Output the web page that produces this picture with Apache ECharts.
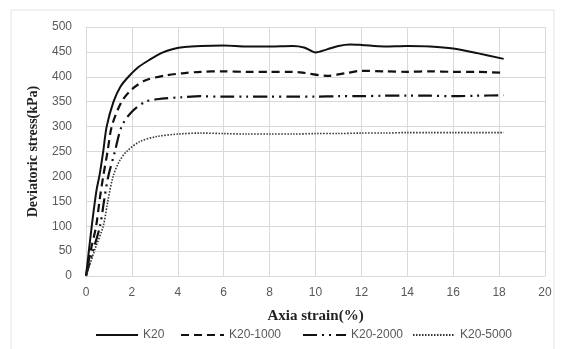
<!DOCTYPE html>
<html>
<head>
<meta charset="utf-8">
<script src="https://cdn.jsdelivr.net/npm/echarts@6/dist/echarts.min.js"></script>
<style>
html, body { margin: 0; padding: 0; background: #fff; }
#chart { width: 566px; height: 349px; }
</style>
</head>
<body>
<div id="chart"></div>
<script>
// 曲线数据 [应变(%), 偏应力(kPa)]
var seriesNames = ['K20', 'K20-1000', 'K20-2000', 'K20-5000'];

var k20 = [[0,0],[0.1,40],[0.25,100],[0.45,170],[0.6,205],[0.75,250],[0.9,300],[1.2,350],[1.5,380],
	[1.85,400],[2.3,420],[2.8,435],[3.3,448],[3.8,456],[4.3,460],[5,462],[6,463],[7,461],[8,461],
	[9,462],[9.5,459],[10,449],[10.5,455],[11,462],[11.5,465],[12,464],[13,461],[14,462],[15,461],
	[16,457],[17,448],[18.2,436]];

var k20_1000 = [[0,0],[0.2,50],[0.44,100],[0.6,155],[0.75,200],[0.94,250],[1.12,300],[1.55,350],
	[2,375],[2.6,393],[3.5,403],[4.2,407],[5,410],[6,411],[7,410],[8,410],[9,410],[9.5,408],
	[10.5,402],[11.3,407],[12,412],[13,411],[14,410],[15,411],[16,410],[17,410],[18.2,408]];

var k20_2000 = [[0,0],[0.3,50],[0.61,100],[0.8,155],[0.97,200],[1.26,250],[1.55,300],[2,330],
	[2.6,350],[3.3,356],[4.2,359],[5,361],[6,360],[7,360],[8,360],[9,360],[10,360],[11,361],
	[12,361],[13,362],[14,362],[15,362],[16,361],[17,362],[18.2,363]];

var k20_5000 = [[0,0],[0.4,55],[0.75,100],[0.95,150],[1.18,200],[1.45,230],[1.77,250],[2.35,270],
	[3.08,280],[4,285],[5,287],[6,286],[7,285],[8,285],[9,285],[10,286],[11,286],[12,287],
	[13,287],[14,288],[15,288],[16,288],[17,288],[18.2,288]];

var xTicks = [0, 20, 2];
var yTicks = [0, 500, 50];

var myChart = echarts.init(document.getElementById('chart'));

var labelColor = '#595959';
var gridColor = '#d9d9d9';

function legendItem(name, left, width) {
	return {
		data: [name],
		left: left,
		top: 329,
		itemWidth: width,
		itemHeight: 10,
		itemGap: 4,
		padding: 0,
		itemStyle: { opacity: 0 },
		textStyle: { color: labelColor, fontSize: 12, fontFamily: 'Liberation Sans' }
	};
}

function makeSeries(name, data, color, width, type) {
	return {
		name: name,
		type: 'line',
		smooth: 0.3,
		symbol: 'none',
		data: data,
		lineStyle: { color: color, width: width, type: type },
		itemStyle: { color: color }
	};
}

var option = {
	animation: false,
	backgroundColor: '#fff',
	graphic: [{
		type: 'rect',
		shape: { x: 11, y: 10, width: 543, height: 345 },
		style: { fill: 'none', stroke: '#e4e4e4', lineWidth: 1 },
		silent: true
	}],
	grid: { left: 86, right: 21, top: 27, bottom: 73 },
	legend: [
		legendItem('K20', 95, 42),
		legendItem('K20-1000', 180, 43),
		legendItem('K20-2000', 302, 43),
		legendItem('K20-5000', 412, 42)
	],
	xAxis: {
		type: 'value',
		min: xTicks[0],
		max: xTicks[1],
		interval: xTicks[2],
		name: 'Axia strain(%)',
		nameLocation: 'middle',
		nameGap: 33,
		nameTextStyle: { fontFamily: 'Liberation Serif', fontWeight: 'bold', fontSize: 15, color: '#222' },
		axisLine: { show: true, lineStyle: { color: gridColor } },
		axisTick: { show: false },
		axisLabel: { color: labelColor, fontSize: 12, margin: 11, fontFamily: 'Liberation Sans' },
		splitLine: { show: true, lineStyle: { color: gridColor, width: 1 } }
	},
	yAxis: {
		type: 'value',
		min: yTicks[0],
		max: yTicks[1],
		interval: yTicks[2],
		name: 'Deviatoric stress(kPa)',
		nameLocation: 'middle',
		nameGap: 46,
		nameTextStyle: { fontFamily: 'Liberation Serif', fontWeight: 'bold', fontSize: 14, color: '#222' },
		axisLine: { show: true, lineStyle: { color: gridColor } },
		axisTick: { show: false },
		axisLabel: { color: labelColor, fontSize: 12, margin: 14, fontFamily: 'Liberation Sans' },
		splitLine: { show: true, lineStyle: { color: gridColor, width: 1 } }
	},
	series: [
		makeSeries(seriesNames[0], k20, '#111', 2, 'solid'),
		makeSeries(seriesNames[1], k20_1000, '#111', 2.2, [8, 5]),
		makeSeries(seriesNames[2], k20_2000, '#111', 2.2, [14, 5, 2, 5, 2, 5]),
		makeSeries(seriesNames[3], k20_5000, '#333', 1.6, [1.5, 1.5])
	]
};

myChart.setOption(option);
</script>
</body>
</html>
